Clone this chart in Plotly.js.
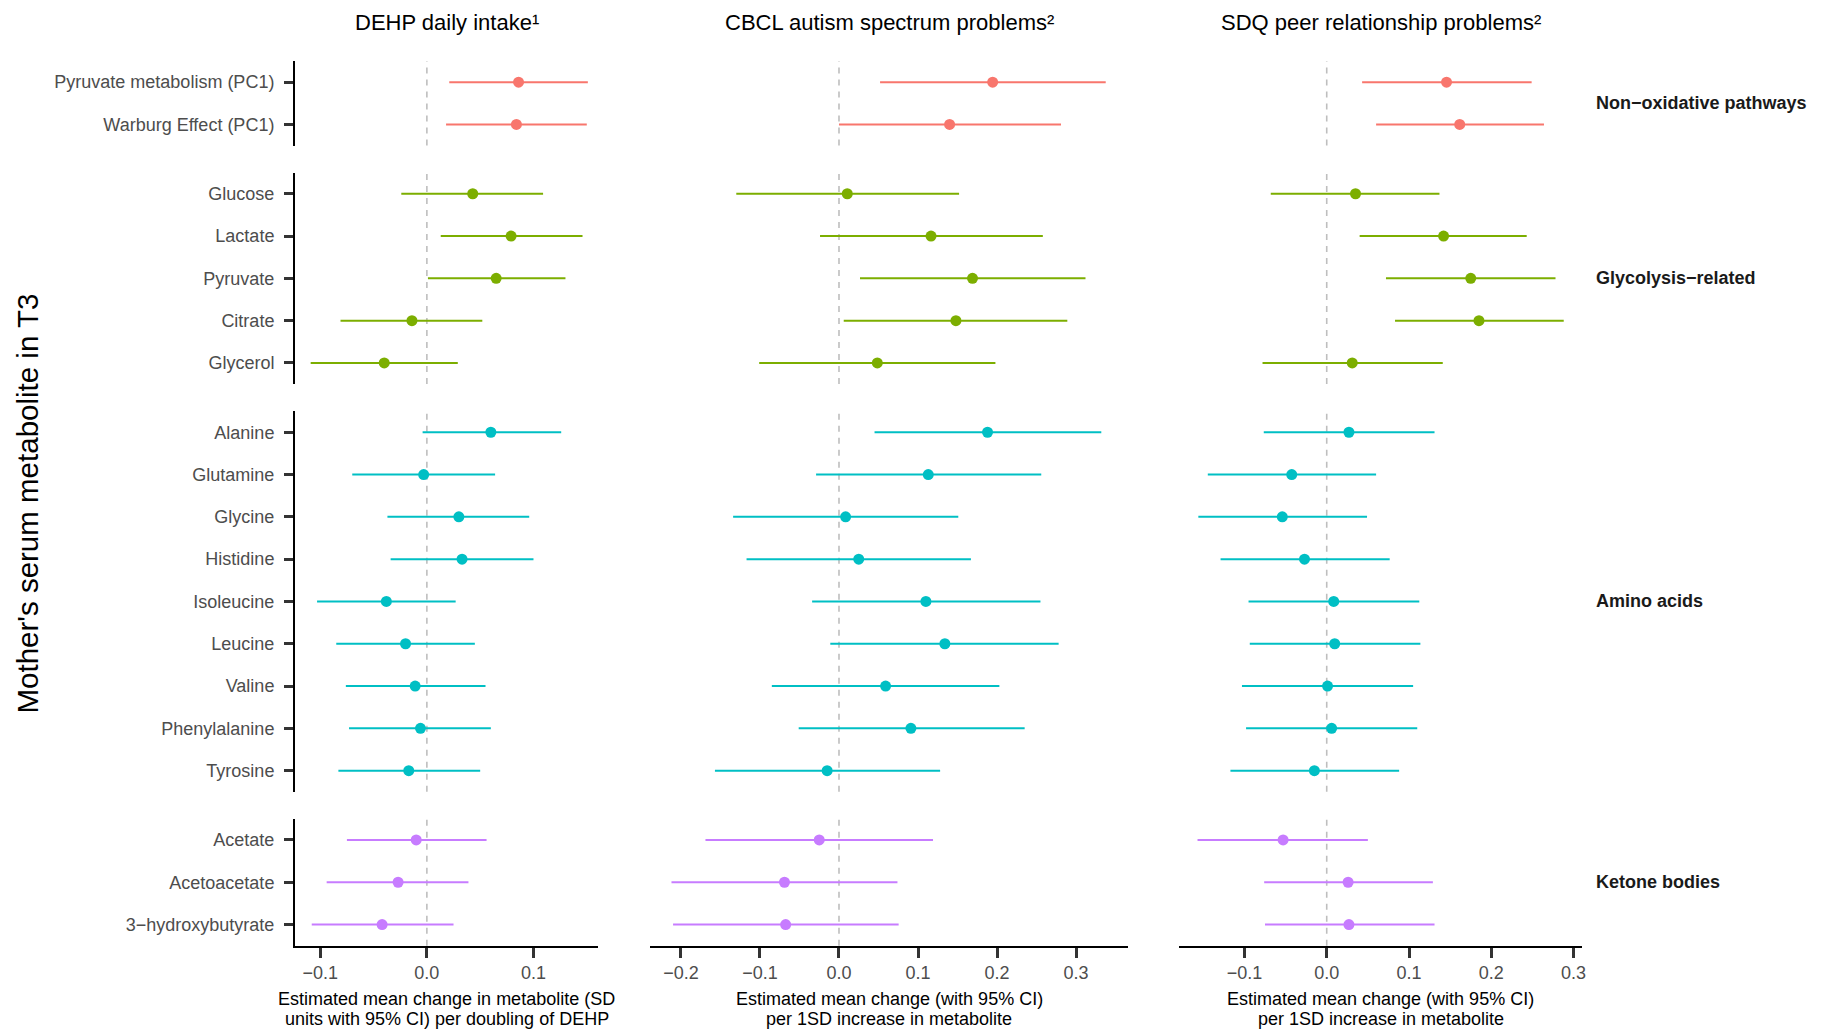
<!DOCTYPE html>
<html>
<head>
<meta charset="utf-8">
<script src="https://cdn.plot.ly/plotly-3.0.1.min.js"></script>
<style>
html, body { margin: 0; padding: 0; background: #ffffff; }
#chart { width: 1822px; height: 1032px; }
</style>
</head>
<body>
<div id="chart"></div>
<script>
// ---------------- DATA ----------------
const metabolites = [
  "Pyruvate metabolism (PC1)", "Warburg Effect (PC1)",
  "Glucose", "Lactate", "Pyruvate", "Citrate", "Glycerol",
  "Alanine", "Glutamine", "Glycine", "Histidine", "Isoleucine", "Leucine", "Valine", "Phenylalanine", "Tyrosine",
  "Acetate", "Acetoacetate", "3\u2212hydroxybutyrate"
];
const metaboliteGroup = [0, 0, 1, 1, 1, 1, 1, 2, 2, 2, 2, 2, 2, 2, 2, 2, 3, 3, 3];
const groupLabels = ["Non\u2212oxidative pathways", "Glycolysis\u2212related", "Amino acids", "Ketone bodies"];

const dehpEst  = [0.086, 0.084, 0.043, 0.079, 0.065, -0.014, -0.040, 0.060, -0.003, 0.030, 0.033, -0.038, -0.020, -0.011, -0.006, -0.017, -0.010, -0.027, -0.042];
const dehpLow  = [0.021, 0.018, -0.024, 0.013, 0.001, -0.081, -0.109, -0.004, -0.070, -0.037, -0.034, -0.103, -0.085, -0.076, -0.073, -0.083, -0.075, -0.094, -0.108];
const dehpHigh = [0.151, 0.150, 0.109, 0.146, 0.130, 0.052, 0.029, 0.126, 0.064, 0.096, 0.100, 0.027, 0.045, 0.055, 0.060, 0.050, 0.056, 0.039, 0.025];

const cbclEst  = [0.1945, 0.140, 0.0105, 0.1165, 0.169, 0.148, 0.0485, 0.188, 0.113, 0.0084, 0.025, 0.110, 0.134, 0.059, 0.091, -0.015, -0.025, -0.069, -0.0675];
const cbclLow  = [0.052, 0.000, -0.130, -0.024, 0.0266, 0.006, -0.101, 0.045, -0.029, -0.134, -0.117, -0.034, -0.011, -0.085, -0.051, -0.157, -0.169, -0.212, -0.210];
const cbclHigh = [0.3376, 0.281, 0.152, 0.258, 0.312, 0.289, 0.198, 0.332, 0.256, 0.151, 0.167, 0.255, 0.278, 0.203, 0.235, 0.128, 0.119, 0.074, 0.0755];

const sdqEst  = [0.1456, 0.1616, 0.035, 0.142, 0.175, 0.185, 0.031, 0.027, -0.0425, -0.054, -0.027, 0.0085, 0.0097, 0.001, 0.006, -0.015, -0.053, 0.026, 0.027];
const sdqLow  = [0.043, 0.060, -0.068, 0.040, 0.072, 0.083, -0.078, -0.0765, -0.1445, -0.156, -0.129, -0.095, -0.0935, -0.103, -0.098, -0.117, -0.157, -0.076, -0.075];
const sdqHigh = [0.249, 0.264, 0.137, 0.243, 0.278, 0.288, 0.141, 0.131, 0.060, 0.049, 0.0765, 0.1125, 0.1138, 0.105, 0.110, 0.088, 0.050, 0.129, 0.131];

const columnTitles = ["DEHP daily intake\u00B9", "CBCL autism spectrum problems\u00B2", "SDQ peer relationship problems\u00B2"];
const xTitleLines = [
  ["Estimated mean change in metabolite (SD", "units with 95% CI) per doubling of DEHP"],
  ["Estimated mean change (with 95% CI)", "per 1SD increase in metabolite"],
  ["Estimated mean change (with 95% CI)", "per 1SD increase in metabolite"]
];
const yTitle = "Mother's serum metabolite in T3";
const xTickValues = [
  [-0.1, 0.0, 0.1],
  [-0.2, -0.1, 0.0, 0.1, 0.2, 0.3],
  [-0.1, 0.0, 0.1, 0.2, 0.3]
];

// ---------------- STYLE / LAYOUT ----------------
const W = 1822, H = 1032;
const L = 295, R = 1582, T = 61, B = 946;
const FONT = "Liberation Sans, Arial, Helvetica, sans-serif";
const groupColors = ["#F8766D", "#7CAE00", "#00BFC4", "#C77CFF"];
const colPx = [[295, 598.3], [650, 1128], [1179, 1582]];
const colRange = [[-0.1237, 0.1608], [-0.2392, 0.3658], [-0.1795, 0.3102]];
const rowH = 42.3, gapH = 27;

const px2x = p => (p - L) / (R - L);
const px2y = p => (B - p) / (B - T);

const columns = [
  { est: dehpEst, low: dehpLow, high: dehpHigh },
  { est: cbclEst, low: cbclLow, high: cbclHigh },
  { est: sdqEst, low: sdqLow, high: sdqHigh }
];

// group pixel extents
const groupPx = [];
let cursor = T;
groupLabels.forEach((g, gi) => {
  const n = metaboliteGroup.filter(v => v === gi).length;
  const top = cursor, bottom = cursor + n * rowH;
  groupPx.push([top, bottom, n]);
  cursor = bottom + gapH;
});

const xName = c => (c === 0 ? "x" : "x" + (c + 1));
const yName = g => (g === 0 ? "y" : "y" + (g + 1));
const layoutKey = n => n.replace(/^x/, "xaxis").replace(/^y/, "yaxis");

const traces = [];
const shapes = [];
columns.forEach((col, c) => {
  groupLabels.forEach((g, gi) => {
    const idx = metabolites.map((m, i) => i).filter(i => metaboliteGroup[i] === gi);
    traces.push({
      type: "scatter",
      mode: "markers",
      xaxis: xName(c),
      yaxis: yName(gi),
      x: idx.map(i => col.est[i]),
      y: idx.map(i => metabolites[i]),
      marker: { color: groupColors[gi], size: 11, line: { width: 0 } },
      error_x: {
        type: "data",
        symmetric: false,
        array: idx.map(i => col.high[i] - col.est[i]),
        arrayminus: idx.map(i => col.est[i] - col.low[i]),
        color: groupColors[gi],
        thickness: 2,
        width: 0
      },
      showlegend: false,
      hoverinfo: "x+y"
    });
    shapes.push({
      type: "line", layer: "below",
      xref: xName(c), yref: yName(gi) + " domain",
      x0: 0, x1: 0, y0: 0, y1: 1,
      line: { color: "#BEBEBE", width: 1.6, dash: "6px,6px" }
    });
  });
});

const layout = {
  width: W, height: H,
  margin: { l: L, r: W - R, t: T, b: H - B, pad: 0 },
  paper_bgcolor: "#ffffff",
  plot_bgcolor: "rgba(0,0,0,0)",
  font: { family: FONT, size: 18, color: "#000000" },
  showlegend: false,
  shapes: shapes,
  annotations: []
};

columns.forEach((col, c) => {
  layout[layoutKey(xName(c))] = {
    domain: [px2x(colPx[c][0]), px2x(colPx[c][1])],
    range: colRange[c],
    anchor: "y4",
    showline: true, linecolor: "#000000", linewidth: 2,
    ticks: "outside", ticklen: 10, tickwidth: 3, tickcolor: "#333333",
    tickmode: "array", tickvals: xTickValues[c],
    ticktext: xTickValues[c].map(v => (v < 0 ? "\u2212" : "") + Math.abs(v).toFixed(1)),
    tickfont: { family: FONT, size: 18, color: "#4D4D4D" },
    showgrid: false, zeroline: false, fixedrange: true
  };
});

groupLabels.forEach((g, gi) => {
  const [top, bottom, n] = groupPx[gi];
  const cats = metabolites.filter((m, i) => metaboliteGroup[i] === gi);
  layout[layoutKey(yName(gi))] = {
    domain: [px2y(bottom), px2y(top)],
    type: "category",
    categoryorder: "array", categoryarray: cats,
    range: [n - 0.5, -0.5],
    anchor: "x",
    showline: true, linecolor: "#000000", linewidth: 2,
    ticks: "outside", ticklen: 9, tickwidth: 3, tickcolor: "#333333",
    ticklabelstandoff: 6,
    tickfont: { family: FONT, size: 18, color: "#4D4D4D" },
    showgrid: false, zeroline: false, fixedrange: true
  };
  layout.annotations.push({
    text: g, xref: "paper", yref: "paper",
    x: px2x(1594), y: px2y((top + bottom) / 2),
    xanchor: "left", yanchor: "middle", showarrow: false,
    font: { family: FONT, size: 18, color: "#1A1A1A", weight: "bold" }
  });
});

columnTitles.forEach((t, c) => {
  const cx = (colPx[c][0] + colPx[c][1]) / 2;
  layout.annotations.push({
    text: t, xref: "paper", yref: "paper",
    x: px2x(cx), y: px2y(22.5),
    xanchor: "center", yanchor: "middle", showarrow: false,
    font: { family: FONT, size: 22, color: "#000000" }
  });
  xTitleLines[c].forEach((line, li) => {
    layout.annotations.push({
      text: line, xref: "paper", yref: "paper",
      x: px2x(cx), y: px2y(999.5 + li * 19.5),
      xanchor: "center", yanchor: "middle", showarrow: false,
      font: { family: FONT, size: 18, color: "#000000" }
    });
  });
});

layout.annotations.push({
  text: yTitle, xref: "paper", yref: "paper",
  x: px2x(27), y: px2y((T + B) / 2),
  xanchor: "center", yanchor: "middle", textangle: -90, showarrow: false,
  font: { family: FONT, size: 29.5, color: "#000000" }
});

Plotly.newPlot("chart", traces, layout, { displayModeBar: false, responsive: false });
</script>
</body>
</html>
